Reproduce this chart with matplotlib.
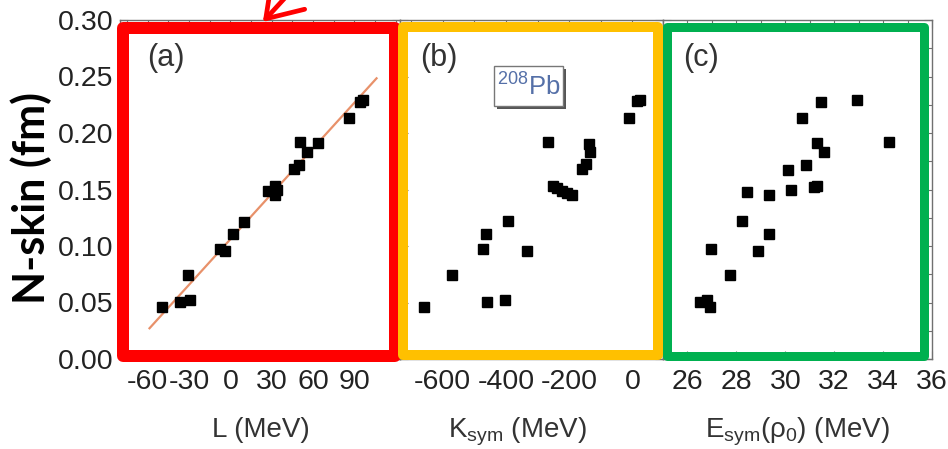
import matplotlib
matplotlib.use("Agg")
import matplotlib.pyplot as plt
from matplotlib.patches import Rectangle, FancyArrowPatch
from matplotlib.ticker import MultipleLocator, FixedLocator

# ---------------- data ----------------
a_L = [-49.2, -36.3, -29.0, -30.7, -7.8, -4.1, 1.7, 10.2, 27.1, 32.7, 32.7, 33.9,
       46.0, 49.6, 50.3, 55.7, 63.7, 85.9, 93.9, 96.4]
a_skin = [0.0457, 0.0507, 0.0522, 0.0743, 0.0970, 0.0956, 0.1110, 0.1215, 0.1487, 0.1530,
          0.1450, 0.1496, 0.1680, 0.1717, 0.1923, 0.1835, 0.1909, 0.2130, 0.2277, 0.2292]
fit_L = [-58.6, 106.0]
fit_skin = [0.0272, 0.2484]

b_K = [-658, -571.5, -459, -403, -471.5, -463, -394, -333, -266, -250, -239, -223,
       -208, -192, -158, -147.5, -137, -133, -10.4, 14, 24]
b_skin = [0.0457, 0.0743, 0.0507, 0.0522, 0.0970, 0.1106, 0.1221, 0.0958, 0.1918, 0.1530,
          0.1510, 0.1490, 0.1470, 0.1450, 0.1680, 0.1723, 0.1900, 0.1835, 0.2130, 0.2286, 0.2292]

c_E = [26.50, 26.80, 26.91, 26.97, 27.76, 28.25, 28.44, 28.89, 29.34, 29.34, 30.12,
       30.23, 30.67, 30.84, 31.18, 31.31, 31.31, 31.48, 31.59, 32.93, 34.25]
c_skin = [0.0507, 0.0522, 0.0457, 0.0970, 0.0743, 0.1221, 0.1480, 0.0958, 0.1450, 0.1106,
          0.1673, 0.1496, 0.2130, 0.1717, 0.1525, 0.1534, 0.1910, 0.2277, 0.1830, 0.2292, 0.1918]

y_ticks = [0.00, 0.05, 0.10, 0.15, 0.20, 0.25, 0.30]
a_ticks = [-60, -30, 0, 30, 60, 90]
b_ticks = [-600, -400, -200, 0]
c_ticks = [26, 28, 30, 32, 34, 36]

panel_labels = ["(a)", "(b)", "(c)"]
x_labels = ["L (MeV)", r"K$_{\rm sym}$ (MeV)", r"E$_{\rm sym}$(ρ$_{\rm 0}$) (MeV)"]
y_label = "N-skin (fm)"
nucleus_label = r"$^{208}$Pb"

# ---------------- style ----------------
plt.rcParams["font.family"] = ["Liberation Sans", "DejaVu Sans"]
plt.rcParams["mathtext.fontset"] = "custom"
plt.rcParams["mathtext.rm"] = "Liberation Sans"
plt.rcParams["mathtext.it"] = "Liberation Sans:italic"
plt.rcParams["axes.unicode_minus"] = False

W, H = 948, 449
fig = plt.figure(figsize=(W / 100, H / 100), dpi=100)

def fx(x):
    return x / W

def fy(y):
    return 1 - y / H

top_px, bot_px = 20, 359
edges = [(120, 400), (400, 663), (663, 932)]
xlims = [(-80, 123), (-735, 97), (25, 36)]
xticks = [a_ticks, b_ticks, c_ticks]
xminor = [15, 100, 1]
frame_col = "#707070"
tick_lab_col = "#222222"
label_x = [(147, 43), (420, 43), (683, 43)]

axes = []
for i, ((l, r), xl) in enumerate(zip(edges, xlims)):
    ax = fig.add_axes([fx(l), fy(bot_px), (r - l) / W, (bot_px - top_px) / H])
    ax.set_xlim(*xl)
    ax.set_ylim(0, 0.30)
    ax.xaxis.set_major_locator(FixedLocator(xticks[i]))
    ax.xaxis.set_minor_locator(MultipleLocator(xminor[i]))
    ax.yaxis.set_major_locator(FixedLocator(y_ticks))
    ax.yaxis.set_minor_locator(MultipleLocator(0.025))
    ax.tick_params(which="both", direction="in", top=True, right=True, color=frame_col,
                   width=0.8)
    ax.tick_params(which="major", length=6)
    ax.tick_params(which="minor", length=3.5)
    ax.tick_params(axis="x", which="major", labelsize=20.5, pad=7, labelcolor=tick_lab_col)
    ax.tick_params(axis="y", which="major", labelsize=20.5, pad=5, labelcolor=tick_lab_col)
    if i == 0:
        ax.set_yticklabels([f"{v:.2f}" for v in y_ticks])
    else:
        ax.tick_params(axis="y", labelleft=False)
    for s in ax.spines.values():
        s.set_color(frame_col)
        s.set_linewidth(1.0)
    px, py = label_x[i]
    fig.text(fx(px), fy(py), panel_labels[i], fontsize=22, color="#333333",
             ha="left", va="top", zorder=6)
    axes.append(ax)

ms = 7.2
axes[0].plot(fit_L, fit_skin, color="#E8916A", lw=1.6, zorder=2)
axes[0].plot(a_L, a_skin, "s", color="black", ms=ms, zorder=3)
axes[1].plot(b_K, b_skin, "s", color="black", ms=ms, zorder=3)
axes[2].plot(c_E, c_skin, "s", color="black", ms=ms, zorder=3)

# 208Pb label box with shadow
bl, bt, br, bb = 494, 66, 563, 106
fig.add_artist(Rectangle((fx(bl + 3), fy(bb + 3)), (br - bl) / W, (bb - bt) / H,
                         transform=fig.transFigure, fc="#555555", ec="none", zorder=6))
fig.add_artist(Rectangle((fx(bl), fy(bb)), (br - bl) / W, (bb - bt) / H,
                         transform=fig.transFigure, fc="white", ec="#777777", lw=1, zorder=6.5))
fig.text(fx((bl + br) / 2), fy((bt + bb) / 2 + 1), nucleus_label, fontsize=18.5,
         color="#5570A8", ha="center", va="center", zorder=7)

# axis labels
label_col = "#333333"
centers = [261, 517, 797.5]
for c, t in zip(centers, x_labels):
    fig.text(fx(c), fy(437), t, fontsize=20, color=label_col, ha="center", va="baseline")

fig.text(fx(31), fy(198), y_label, rotation=90, fontsize=31, fontweight="bold",
         family=["Lato", "DejaVu Sans"], color="black", ha="center", va="center")

# coloured highlight boxes (figure pixel coords of stroke centrelines)
boxes = [
    ((122.7, 27.7, 395.0, 356.0), "#FF0000", 12),
    ((403.0, 26.7, 657.7, 355.0), "#FFC000", 10),
    ((667.2, 27.2, 923.8, 355.5), "#00B050", 9),
]
for (l, t, r, b), col, lw_px in boxes:
    rect = Rectangle((fx(l), fy(b)), (r - l) / W, (b - t) / H, transform=fig.transFigure,
                     fill=False, ec=col, lw=lw_px * 0.72, joinstyle="round", zorder=5)
    fig.add_artist(rect)

# red arrow at top
fig.add_artist(FancyArrowPatch(
    (fx(294), fy(-12)), (fx(261), fy(24)), transform=fig.transFigure,
    arrowstyle="->,head_length=12,head_width=8", color="#FF0000", lw=3.4, zorder=8,
    mutation_scale=2, capstyle="round", joinstyle="round"))

fig.savefig("out.png", dpi=100)
